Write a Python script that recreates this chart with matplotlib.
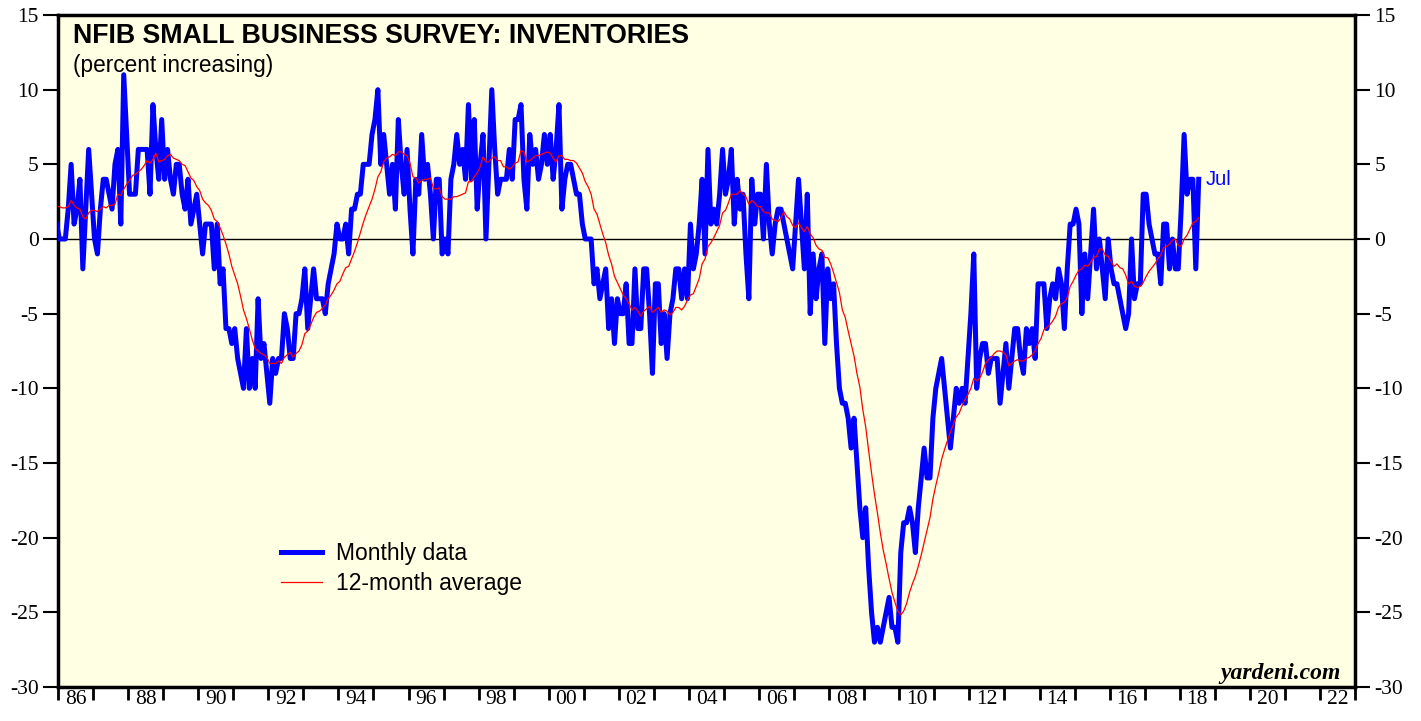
import numpy as np
import pandas as pd
import matplotlib
matplotlib.use("Agg")
import matplotlib.pyplot as plt

# Jan-Nov 1985 values (off-chart), used only to seed the 12-month average
warmup_1985 = [0, 1, 0, 1, 0, 5, 4, 5, 4, 4, 1]

# NFIB inventories, percent increasing (net), monthly, Dec 1985 - Jul 2018
inv_1980s = [1,
             0, 0, 0, 2, 5, 1, 2, 4, -2, 2, 6, 3,
             0, -1, 2, 4, 4, 3, 2, 5, 6, 1, 11, 7,
             3, 3, 3, 6, 6, 6, 6, 3, 9, 6, 4, 8,
             4, 6, 4, 3, 5, 5, 3, 2, 4, 1, 2, 3]
inv_1990s = [1, -1, 1, 1, 1, -2, 1, -3, -2, -6, -6, -7,
             -6, -8, -9, -10, -6, -10, -8, -10, -4, -8, -7, -9,
             -11, -8, -9, -8, -8, -5, -6, -8, -8, -5, -5, -4,
             -2, -6, -4, -2, -4, -4, -4, -5, -3, -2, -1, 1,
             0, 0, 1, -1, 2, 2, 3, 3, 5, 5, 5, 7,
             8, 10, 5, 7, 5, 3, 5, 2, 8, 5, 3, 6,
             2, -1, 4, 3, 7, 4, 5, 3, 0, 4, 4, -1,
             0, -1, 4, 5, 7, 5, 6, 4, 9, 4, 8, 2,
             5, 7, 0, 5, 10, 6, 3, 4, 4, 4, 6, 4,
             8, 8, 9, 4, 2, 7, 5, 6, 4, 5, 7, 5]
inv_2000s = [7, 4, 6, 9, 2, 4, 5, 5, 4, 3, 3, 1,
             0, 0, 0, -3, -2, -4, -3, -2, -6, -4, -7, -4,
             -5, -5, -3, -7, -7, -2, -6, -6, -2, -2, -5, -9,
             -3, -3, -7, -5, -8, -5, -4, -2, -2, -4, -2, -4,
             1, -2, -1, 1, 4, -1, 6, 1, 2, 1, 3, 6,
             3, 4, 6, 1, 4, 2, 3, -1, -4, 4, 1, 3,
             3, 0, 5, 1, -1, 1, 2, 2, 1, 0, -1, -2,
             1, 4, 1, -2, 3, -5, -1, -4, -2, -1, -7, -2,
             -4, -3, -7, -10, -11, -11, -12, -14, -12, -15, -18, -20,
             -18, -22, -25, -27, -26, -27, -26, -25, -24, -26, -26, -27]
inv_2010s = [-21, -19, -19, -18, -19, -21, -18, -16, -14, -16, -16, -12,
             -10, -9, -8, -10, -12, -14, -12, -10, -11, -10, -11, -8,
             -5, -1, -10, -8, -7, -7, -9, -8, -8, -8, -11, -9,
             -7, -10, -8, -6, -6, -8, -9, -6, -7, -6, -8, -3,
             -3, -3, -6, -4, -3, -4, -2, -3, -6, -2, 1, 1,
             2, 1, -5, -1, -4, -1, 2, -2, 0, -2, -4, 0,
             -2, -3, -3, -4, -5, -6, -5, 0, -4, -3, -3, 3,
             3, 1, 0, -1, -1, -3, 1, 1, -2, 0, -2, -2,
             2, 7, 3, 4, 4, -2, 4]

year_ticks = list(range(1986, 2024))
year_labels = ["86", "88", "90", "92", "94", "96", "98", "00", "02", "04",
               "06", "08", "10", "12", "14", "16", "18", "20", "22"]
y_ticks = [-30, -25, -20, -15, -10, -5, 0, 5, 10, 15]

monthly = np.array(inv_1980s + inv_1990s + inv_2000s + inv_2010s, dtype=float)
full = np.array(warmup_1985 + list(monthly), dtype=float)
avg12 = pd.Series(full).rolling(12).mean().values[len(warmup_1985):]
x = 1985 + 11 / 12 + 1 / 24 + np.arange(len(monthly)) / 12

W, H = 1421, 721
fig = plt.figure(figsize=(W / 100, H / 100), dpi=100)
fig.patch.set_facecolor("white")
L, R, T, B = 58, 1355, 15, 687
ax = fig.add_axes([L / W, 1 - B / H, (R - L) / W, (B - T) / H])
ax.set_facecolor("#FFFFE3")

ax.axhline(0, color="black", lw=1.0, zorder=2)
ax.plot(x, monthly, color="#0000FF", lw=3.6, solid_joinstyle="round",
        label="Monthly data", zorder=3)
ax.plot(x, avg12, color="#FF0000", lw=0.9, label="12-month average", zorder=4)

ax.set_xlim(1986, 2023)
ax.set_ylim(-30, 15)

serif = ["Liberation Serif", "DejaVu Serif"]
sans = ["Liberation Sans", "DejaVu Sans"]

ax.set_yticks(y_ticks)
ax.set_yticklabels([str(v) for v in y_ticks], family=serif)
ax.tick_params(axis="y", which="major", direction="out", length=11, width=1.5,
               labelsize=15.5, left=True, right=True, labelleft=True,
               labelright=True, pad=3)

ax.set_xticks(year_ticks)
ax.set_xticklabels([])
ax.set_xticks([int(l) + 0.5 + (1900 if int(l) > 50 else 2000) for l in year_labels],
              minor=True)
ax.set_xticklabels(year_labels, minor=True, family=serif)
ax.tick_params(axis="x", which="major", direction="out", length=9, width=2)
ax.tick_params(axis="x", which="minor", length=0, labelsize=15.5, pad=2)

for s in ax.spines.values():
    s.set_linewidth(2.5)

fig.text(73 / W, 1 - 23 / H, "NFIB SMALL BUSINESS SURVEY: INVENTORIES",
         family=sans, fontweight="bold", fontsize=19.3, va="top", ha="left")
fig.text(73 / W, 1 - 54 / H, "(percent increasing)",
         family=sans, fontsize=16.3, va="top", ha="left")

leg = ax.legend(loc="upper left", bbox_to_anchor=(214 / (R - L), 1 - 518 / (B - T)),
                frameon=False, prop={"family": sans, "size": 16.5},
                handlelength=1.8, handletextpad=0.6, labelspacing=0.3,
                borderaxespad=0)

ax.text(x[-1] + 0.2, 4.0, "Jul", color="#0000FF", family=sans, fontsize=14.5,
        va="center", ha="left")

fig.text(1341 / W, 1 - 679 / H, "yardeni.com", family=serif, fontstyle="italic",
         fontweight="bold", fontsize=17, ha="right", va="baseline")

fig.savefig("out.png", dpi=100)
